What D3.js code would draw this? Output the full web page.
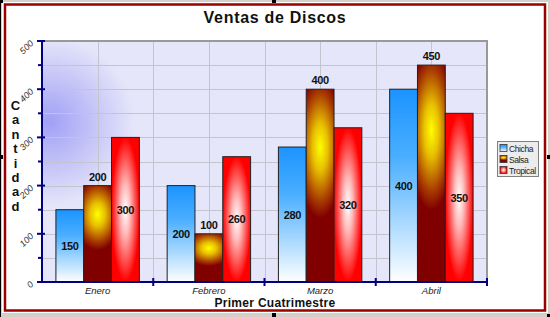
<!DOCTYPE html>
<html>
<head>
<meta charset="utf-8">
<script src="https://cdn.jsdelivr.net/npm/d3@7"></script>
<style>
  body { margin: 0; background: #d4d0c8; }
  .canvas svg { display: block; }
</style>
</head>
<body>
<div class="canvas"></div>
<script>
// datos
const meses = ['Enero', 'Febrero', 'Marzo', 'Abril'];
const series = ['Chicha', 'Salsa', 'Tropical'];
const chicha = [150, 200, 280, 400];
const salsa = [200, 100, 400, 450];
const tropical = [300, 260, 320, 350];
const yTicks = [0, 100, 200, 300, 400, 500];

const dims = { width: 550, height: 317 };
const plot = { left: 42, right: 487, top: 41, bottom: 282 };

const data = meses.map((m, i) => ({ mes: m, values: [chicha[i], salsa[i], tropical[i]] }));

const svg = d3.select('.canvas')
    .append('svg')
    .attr('width', dims.width)
    .attr('height', dims.height)
    .style('font-family', 'Arial, "Liberation Sans", sans-serif');

const defs = svg.append('defs');

// gradientes de las barras
const gChicha = defs.append('linearGradient')
    .attr('id', 'g-Chicha')
    .attr('x1', 0).attr('y1', 0).attr('x2', 0).attr('y2', 1);
gChicha.append('stop').attr('offset', 0).attr('stop-color', '#1c94ff');
gChicha.append('stop').attr('offset', 0.35).attr('stop-color', '#4aaeff');
gChicha.append('stop').attr('offset', 1).attr('stop-color', '#ffffff');

// salsa: mancha amarilla ancha, mas arriba del centro
const gSalsa = defs.append('radialGradient')
    .attr('id', 'g-Salsa')
    .attr('cx', 0.5).attr('cy', 0.3).attr('r', 0.5)
    .attr('gradientTransform', 'translate(0.5,0.3) scale(1.8,0.8) translate(-0.5,-0.3)');
gSalsa.append('stop').attr('offset', 0).attr('stop-color', '#ffff00');
gSalsa.append('stop').attr('offset', 0.3).attr('stop-color', '#e8c000');
gSalsa.append('stop').attr('offset', 0.7).attr('stop-color', '#a83c00');
gSalsa.append('stop').attr('offset', 0.92).attr('stop-color', '#800000');
gSalsa.append('stop').attr('offset', 1).attr('stop-color', '#800000');

const gTropical = defs.append('radialGradient')
    .attr('id', 'g-Tropical')
    .attr('cx', 0.5).attr('cy', 0.5).attr('r', 0.5);
gTropical.append('stop').attr('offset', 0).attr('stop-color', '#ffffff');
gTropical.append('stop').attr('offset', 0.35).attr('stop-color', '#ffb8b8');
gTropical.append('stop').attr('offset', 1).attr('stop-color', '#ff0000');

// brillo azul del fondo
const gFondo = defs.append('radialGradient')
    .attr('id', 'g-fondo')
    .attr('gradientUnits', 'userSpaceOnUse')
    .attr('cx', 50).attr('cy', 122).attr('r', 85);
gFondo.append('stop').attr('offset', 0).attr('stop-color', '#a0a0f5');
gFondo.append('stop').attr('offset', 1).attr('stop-color', '#e6e6fa');

// marco
svg.append('rect')
    .attr('x', 2).attr('y', 2)
    .attr('width', 546).attr('height', 311)
    .attr('fill', '#fff');
svg.append('rect')
    .attr('x', 5).attr('y', 4.5)
    .attr('width', 540).attr('height', 306)
    .attr('fill', 'none')
    .attr('stroke', '#990000')
    .attr('stroke-width', 2.5);
svg.append('rect').attr('x', 0).attr('y', 0).attr('width', 1).attr('height', 317).attr('fill', '#000');
// asas de seleccion
[[272, 0, 4, 3], [272, 313, 4, 4], [0, 155, 3, 4], [547, 155, 3, 4], [0, 0, 3, 3], [547, 314, 3, 3]]
    .forEach(h => svg.append('rect')
        .attr('x', h[0]).attr('y', h[1]).attr('width', h[2]).attr('height', h[3])
        .attr('fill', '#000'));

// escalas
const x = d3.scaleBand()
    .domain(meses)
    .range([plot.left, plot.right]);

const xs = d3.scaleBand()
    .domain(series)
    .range([0, x.bandwidth()])
    .paddingOuter(0.5);

const y = d3.scaleLinear()
    .domain([0, 500])
    .range([plot.bottom, plot.top]);

// fondo del area
svg.append('rect')
    .attr('x', plot.left).attr('y', plot.top)
    .attr('width', plot.right - plot.left)
    .attr('height', plot.bottom - plot.top)
    .attr('fill', 'url(#g-fondo)');

// rejilla
const grid = svg.append('g')
    .attr('stroke', '#c4c4d0')
    .attr('stroke-width', 1);

grid.selectAll('line.h')
    .data(d3.range(50, 500, 50))
    .enter().append('line')
    .attr('x1', plot.left).attr('x2', plot.right)
    .attr('y1', d => Math.round(y(d)) + 0.5)
    .attr('y2', d => Math.round(y(d)) + 0.5);

const vx = [];
meses.forEach(m => { vx.push(x(m) + x.bandwidth() / 2); vx.push(x(m) + x.bandwidth()); });
grid.selectAll('line.v')
    .data(vx.slice(0, -1))
    .enter().append('line')
    .attr('y1', plot.top).attr('y2', plot.bottom)
    .attr('x1', d => Math.round(d) + 0.5)
    .attr('x2', d => Math.round(d) + 0.5);

// borde superior y derecho
svg.append('path')
    .attr('d', `M${plot.left},${plot.top}H${plot.right}V${plot.bottom}`)
    .attr('fill', 'none')
    .attr('stroke', '#999')
    .attr('stroke-width', 2);

// barras
const groups = svg.selectAll('g.mes')
    .data(data)
    .enter().append('g')
    .attr('class', 'mes')
    .attr('transform', d => `translate(${x(d.mes)},0)`);

groups.selectAll('rect')
    .data(d => d.values.map((v, i) => ({ serie: series[i], value: v })))
    .enter().append('rect')
    .attr('x', d => xs(d.serie))
    .attr('y', d => y(d.value))
    .attr('width', xs.bandwidth())
    .attr('height', d => y(0) - y(d.value))
    .attr('fill', d => `url(#g-${d.serie})`)
    .attr('stroke', '#222')
    .attr('stroke-width', 1);

// etiquetas de valor
groups.selectAll('text')
    .data(d => d.values.map((v, i) => ({ serie: series[i], value: v })))
    .enter().append('text')
    .attr('x', d => xs(d.serie) + xs.bandwidth() / 2)
    .attr('y', d => d.serie === 'Salsa' ? y(d.value) - 5 : (y(d.value) + y(0)) / 2 + 4)
    .attr('text-anchor', 'middle')
    .style('font-weight', 'bold')
    .style('font-size', '11px')
    .style('letter-spacing', '-0.4px')
    .attr('fill', '#111')
    .text(d => d.value);

// eje Y
const yAxis = svg.append('g').attr('stroke', '#000080');
yAxis.append('line')
    .attr('x1', plot.left).attr('x2', plot.left)
    .attr('y1', plot.top - 1).attr('y2', plot.bottom)
    .attr('stroke-width', 2);
yAxis.selectAll('line.mayor')
    .data(yTicks)
    .enter().append('line')
    .attr('x1', plot.left - 5).attr('x2', plot.left + 3)
    .attr('y1', d => y(d)).attr('y2', d => y(d))
    .attr('stroke-width', 2);
yAxis.selectAll('line.menor')
    .data(d3.range(50, 500, 100))
    .enter().append('line')
    .attr('x1', plot.left - 4).attr('x2', plot.left)
    .attr('y1', d => y(d)).attr('y2', d => y(d))
    .attr('stroke-width', 2);

svg.selectAll('text.ytick')
    .data(yTicks)
    .enter().append('text')
    .attr('transform', d => `translate(34,${y(d) + 3}) rotate(-45)`)
    .attr('text-anchor', 'end')
    .style('font-size', '9px')
    .style('font-style', 'italic')
    .attr('fill', '#333')
    .text(d => d);

// eje X
const xAxis = svg.append('g').attr('stroke', '#000080');
xAxis.append('line')
    .attr('x1', plot.left).attr('x2', plot.right)
    .attr('y1', plot.bottom).attr('y2', plot.bottom)
    .attr('stroke-width', 2);
xAxis.selectAll('line.tick')
    .data(meses)
    .enter().append('line')
    .attr('x1', d => x(d) + x.bandwidth()).attr('x2', d => x(d) + x.bandwidth())
    .attr('y1', plot.bottom - 4).attr('y2', plot.bottom + 4)
    .attr('stroke-width', 2);

svg.selectAll('text.xtick')
    .data(meses)
    .enter().append('text')
    .attr('x', d => x(d) + x.bandwidth() / 2)
    .attr('y', 294)
    .attr('text-anchor', 'middle')
    .style('font-size', '9.5px')
    .style('font-style', 'italic')
    .attr('fill', '#222')
    .text(d => d);

// titulos
svg.append('text')
    .attr('x', 275).attr('y', 23)
    .attr('text-anchor', 'middle')
    .style('font-size', '16px')
    .style('font-weight', 'bold')
    .style('letter-spacing', '0.7px')
    .attr('fill', '#111')
    .text('Ventas de Discos');

svg.append('text')
    .attr('x', 275).attr('y', 307)
    .attr('text-anchor', 'middle')
    .style('font-size', '12px')
    .style('font-weight', 'bold')
    .style('letter-spacing', '0.3px')
    .attr('fill', '#111')
    .text('Primer Cuatrimestre');

svg.selectAll('text.ytitle')
    .data('Cantidad'.split(''))
    .enter().append('text')
    .attr('x', 15.5)
    .attr('y', (d, i) => 110 + i * 14.4)
    .attr('text-anchor', 'middle')
    .style('font-size', '13px')
    .style('font-weight', 'bold')
    .attr('fill', '#111')
    .text(d => d);

// leyenda
const legend = svg.append('g')
    .attr('transform', 'translate(497,141)');
legend.append('rect')
    .attr('x', 0.5).attr('y', 0.5)
    .attr('width', 41).attr('height', 35)
    .attr('fill', '#ececec')
    .attr('stroke', '#808080');
const items = legend.selectAll('g.item')
    .data(series)
    .enter().append('g')
    .attr('transform', (d, i) => `translate(3,${3 + i * 11})`);
items.append('rect')
    .attr('width', 7).attr('height', 7)
    .attr('y', 0.5)
    .attr('fill', d => `url(#g-${d})`)
    .attr('stroke', '#333')
    .attr('stroke-width', 0.8);
items.append('text')
    .attr('x', 9).attr('y', 8)
    .style('font-size', '8.5px')
    .style('letter-spacing', '-0.4px')
    .attr('fill', '#222')
    .text(d => d);
</script>
</body>
</html>
